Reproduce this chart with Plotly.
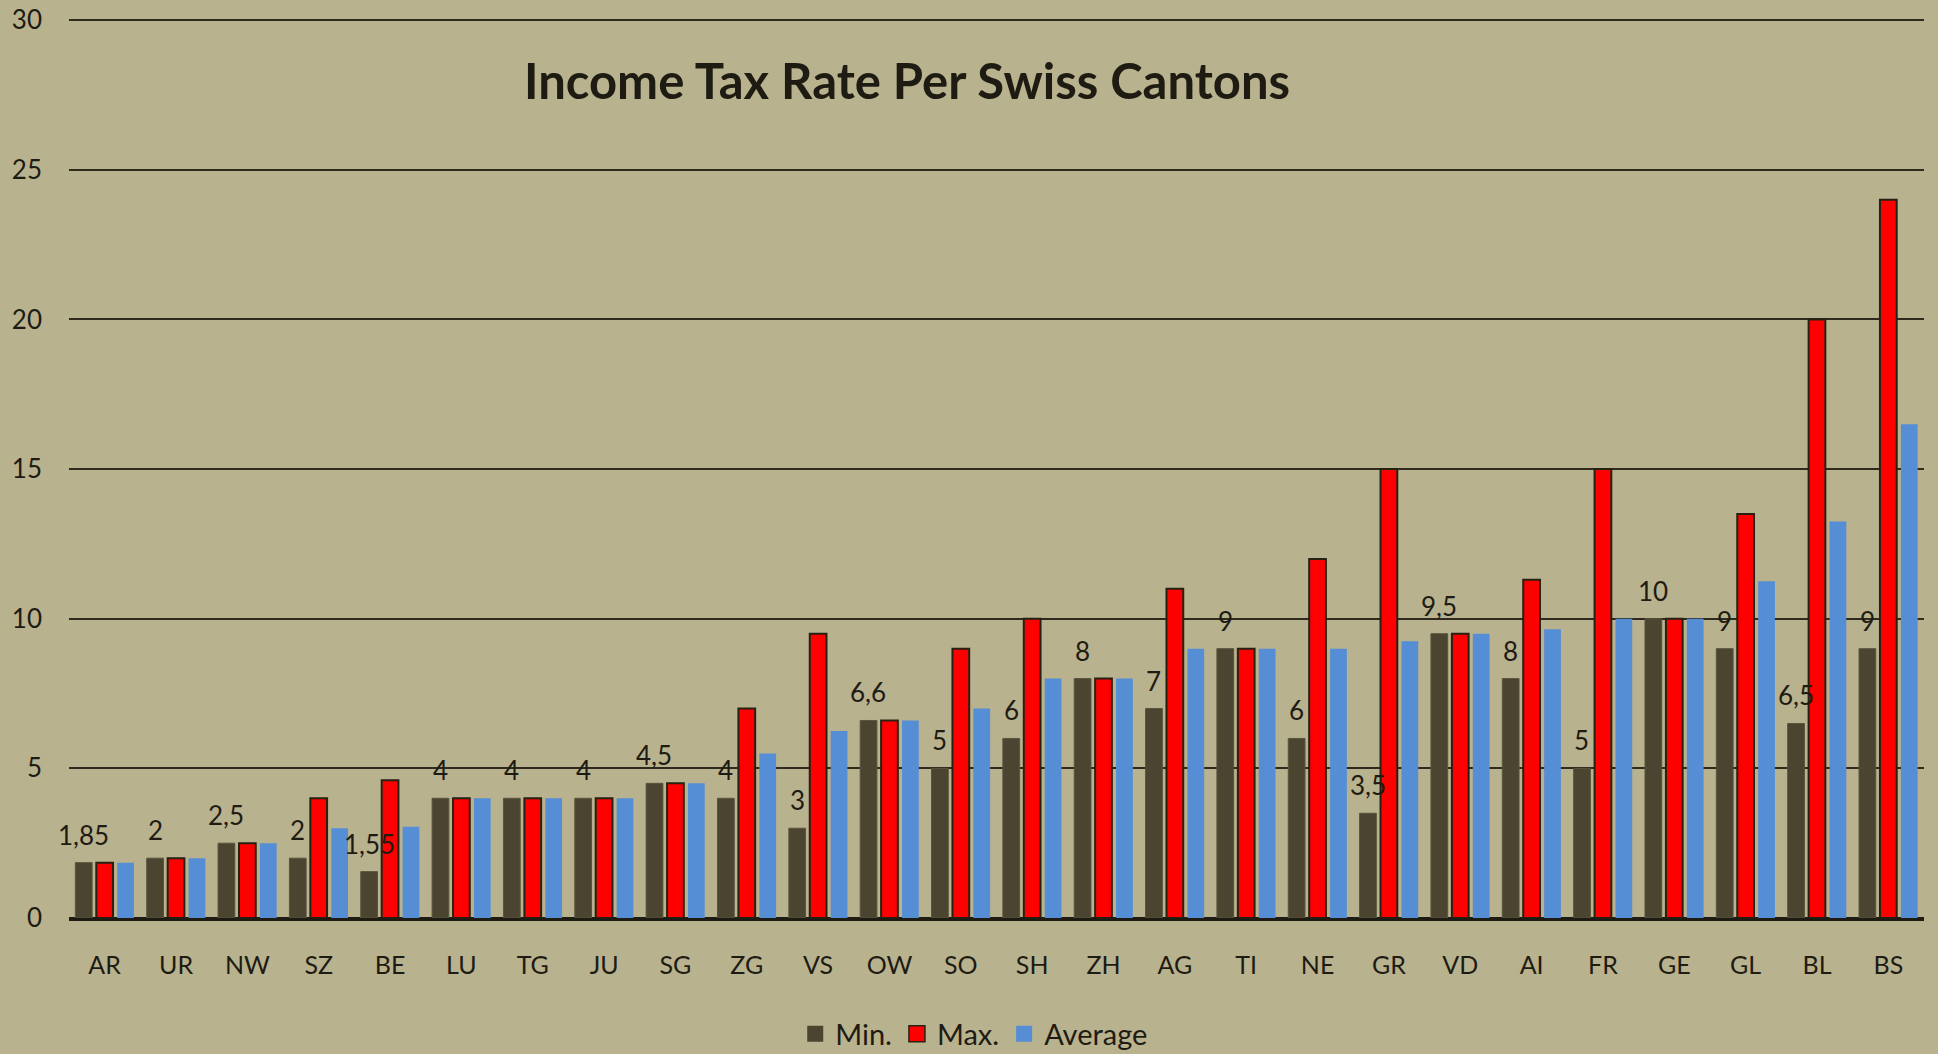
import plotly.graph_objects as go

cantons = ["AR", "UR", "NW", "SZ", "BE", "LU", "TG", "JU", "SG", "ZG", "VS", "OW", "SO",
           "SH", "ZH", "AG", "TI", "NE", "GR", "VD", "AI", "FR", "GE", "GL", "BL", "BS"]
min_rate = [1.85, 2, 2.5, 2, 1.55, 4, 4, 4, 4.5, 4, 3, 6.6, 5,
            6, 8, 7, 9, 6, 3.5, 9.5, 8, 5, 10, 9, 6.5, 9]
max_rate = [1.85, 2, 2.5, 4, 4.6, 4, 4, 4, 4.5, 7, 9.5, 6.6, 9,
            10, 8, 11, 9, 12, 15, 9.5, 11.3, 15, 10, 13.5, 20, 24]
avg_rate = [1.85, 2, 2.5, 3, 3.05, 4, 4, 4, 4.5, 5.5, 6.25, 6.6, 7,
            8, 8, 9, 9, 9, 9.25, 9.5, 9.65, 10, 10, 11.25, 13.25, 16.5]
y_ticks = [0, 5, 10, 15, 20, 25, 30]

series_names = ["Min.", "Max.", "Average"]
series_colors = ["#4A4430", "#FF0000", "#558ED5"]
series_lines = [("#5A543D", 1), ("#262213", 2), ("#558ED5", 0)]

FONT = "Lato"
BG = "#B9B28F"
INK = "#1E1C12"

fig = go.Figure()
for name, vals, col, (lc, lw) in zip(series_names, [min_rate, max_rate, avg_rate],
                                     series_colors, series_lines):
    fig.add_trace(go.Bar(name=name, x=cantons, y=vals, showlegend=False,
                         marker=dict(color=col, line=dict(color=lc, width=lw))))

# legend entries with larger square swatches
for name, col, (lc, lw) in zip(series_names, series_colors, series_lines):
    fig.add_trace(go.Scatter(name=name, x=[None], y=[None], mode="markers",
                             marker=dict(symbol="square", size=16, color=col,
                                         line=dict(color=lc if lw else col, width=1.5 if name == "Max." else 0)),
                             hoverinfo="skip"))

annotations = []
for c, v in zip(cantons, min_rate):
    annotations.append(dict(x=c, y=v, xref="x", yref="y", text=f"{v:g}".replace(".", ","),
                            showarrow=False, xshift=-21, yshift=28, yanchor="middle",
                            font=dict(family=FONT, size=26, color=INK)))
annotations.append(dict(x=0.4516, y=0.9325, xref="paper", yref="paper",
                        text="<b>Income Tax Rate Per Swiss Cantons</b>", showarrow=False,
                        xanchor="center", yanchor="middle",
                        font=dict(family=FONT, size=49, color=INK)))

fig.update_layout(
    width=1938, height=1054,
    paper_bgcolor=BG, plot_bgcolor=BG,
    margin=dict(l=69, r=14, t=19, b=136, autoexpand=False),
    barmode="group", bargap=0.12, bargroupgap=0.2,
    font=dict(family=FONT, size=26, color=INK),
    separators=",.",
    showlegend=True,
    legend=dict(orientation="h", x=0.488, xanchor="center", y=-0.129, yanchor="middle",
                font=dict(family=FONT, size=29, color=INK), bgcolor="rgba(0,0,0,0)",
                itemclick=False, itemwidth=30, tracegroupgap=0),
    annotations=annotations,
)
fig.update_xaxes(range=[-0.5, len(cantons) - 0.5], autorange=False,
                 showgrid=False, showline=True, linecolor=INK, linewidth=2.5, automargin=False,
                 ticks="", ticklabelstandoff=23, tickfont=dict(family=FONT, size=25, color=INK))
fig.update_yaxes(range=[0, 30.04], autorange=False, tickvals=y_ticks, showgrid=True,
                 gridcolor="#2E2B1E", gridwidth=2,
                 zeroline=True, zerolinecolor=INK, zerolinewidth=2.5, showline=False, automargin=False,
                 ticks="", ticklabelstandoff=26, tickfont=dict(family=FONT, size=26, color=INK))

fig.write_html("out.html", config={"displayModeBar": False},
               post_script="document.body.style.margin='0';document.body.style.overflow='hidden';")
